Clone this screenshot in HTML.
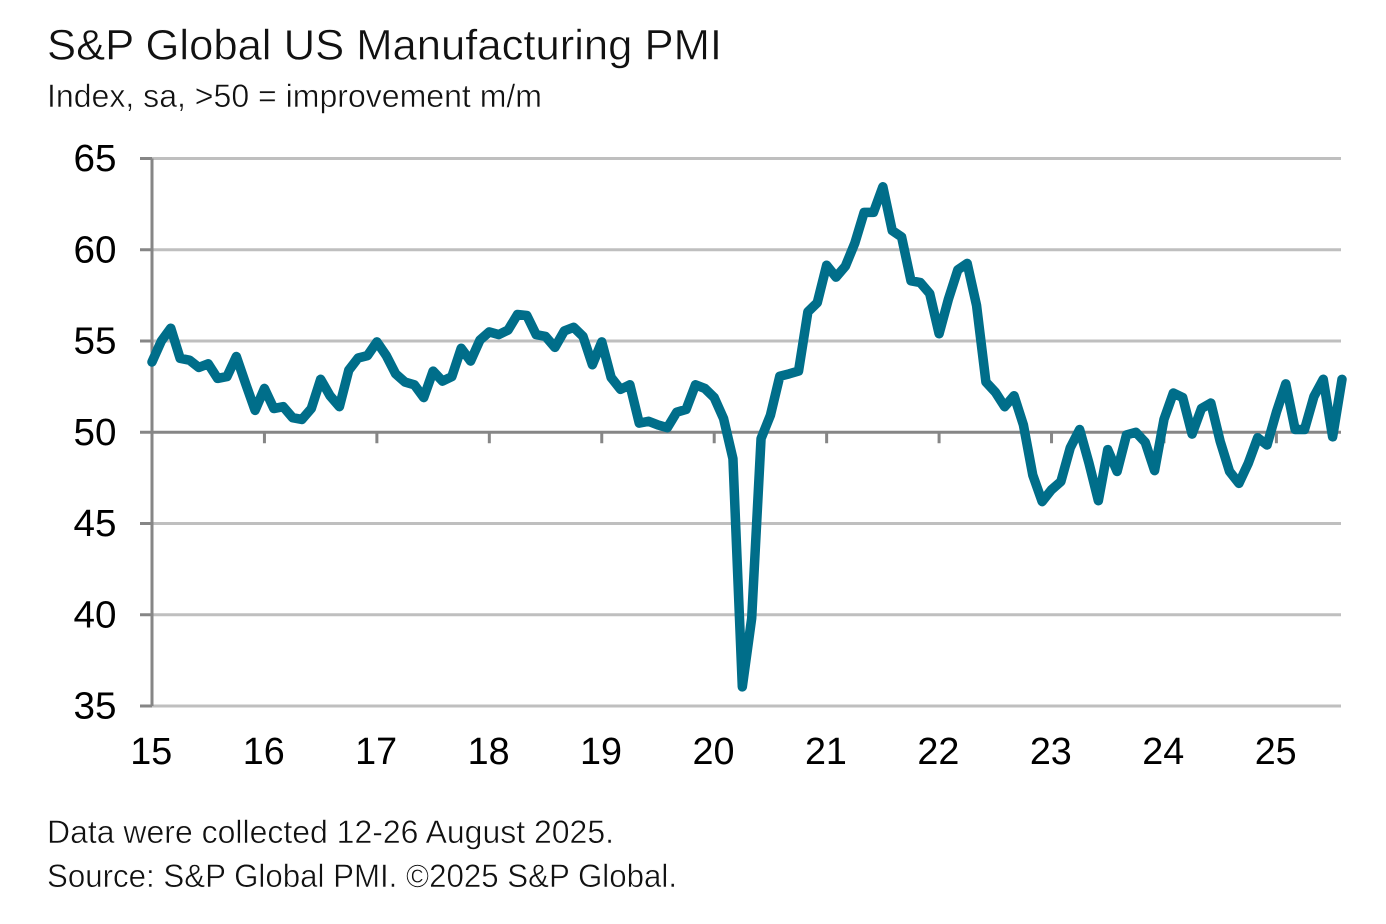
<!DOCTYPE html>
<html lang="en">
<head>
<meta charset="utf-8">
<title>S&amp;P Global US Manufacturing PMI</title>
<style>
html,body{margin:0;padding:0;background:#fff;}
body{width:1386px;height:924px;overflow:hidden;}
svg{display:block;}
text{font-family:"Liberation Sans",sans-serif;fill:#000;}
.thin{fill:#111;stroke:#fff;stroke-width:.5px;paint-order:fill stroke;}
</style>
</head>
<body>
<svg id="chart" width="1386" height="924" viewBox="0 0 1386 924" xmlns="http://www.w3.org/2000/svg">
  <rect x="0" y="0" width="1386" height="924" fill="#fff"/>
  <text class="thin" x="47" y="59.5" font-size="43" textLength="675" lengthAdjust="spacingAndGlyphs">S&amp;P Global US Manufacturing PMI</text>
  <text class="thin" x="47" y="107" font-size="32.5" textLength="495" lengthAdjust="spacingAndGlyphs">Index, sa, &gt;50 = improvement m/m</text>
  <g id="grid"></g>
  <g id="axes"></g>
  <g id="series"></g>
  <text class="thin" x="47" y="843" font-size="32" textLength="567" lengthAdjust="spacingAndGlyphs">Data were collected 12-26 August 2025.</text>
  <text class="thin" x="47" y="887" font-size="32" textLength="630" lengthAdjust="spacingAndGlyphs">Source: S&amp;P Global PMI. ©2025 S&amp;P Global.</text>
</svg>
<script>
const yTicks = [35, 40, 45, 50, 55, 60, 65];
const xLabels = ["15", "16", "17", "18", "19", "20", "21", "22", "23", "24", "25"];
const pmiValues = [
  53.85, 55.0, 55.7, 54.05, 53.95, 53.55, 53.75, 52.95, 53.05, 54.15, 52.65, 51.2,
  52.4, 51.3, 51.4, 50.8, 50.7, 51.3, 52.9, 52.0, 51.4, 53.4, 54.07, 54.2,
  54.95, 54.2, 53.2, 52.75, 52.6, 51.9, 53.35, 52.8, 53.05, 54.6, 53.9, 55.05,
  55.5, 55.35, 55.6, 56.45, 56.4, 55.35, 55.25, 54.65, 55.55, 55.75, 55.25, 53.7,
  54.95, 53.0, 52.35, 52.6, 50.5, 50.6, 50.4, 50.25, 51.1, 51.25, 52.6, 52.4,
  51.9, 50.75, 48.55, 36.05, 39.8, 49.65, 50.93, 53.07, 53.2, 53.35, 56.6, 57.1,
  59.15, 58.5, 59.1, 60.35, 62.05, 62.05, 63.45, 61.05, 60.7, 58.3, 58.2, 57.6,
  55.4, 57.3, 58.9, 59.25, 56.95, 52.75, 52.2, 51.4, 52.0, 50.4, 47.65, 46.2,
  46.85, 47.3, 49.15, 50.15, 48.3, 46.25, 49.05, 47.85, 49.85, 50.0, 49.45, 47.9,
  50.7, 52.15, 51.9, 49.9, 51.3, 51.6, 49.5, 47.85, 47.2, 48.3, 49.7, 49.3,
  51.1, 52.65, 50.15, 50.15, 51.95, 52.9, 49.75, 52.9
];

const NS = "http://www.w3.org/2000/svg";
const plotLeft = 152, plotRight = 1341, plotTop = 158.5, plotBottom = 706;
const monthStep = 9.37;
function xPos(i) { return plotLeft + i * monthStep; }
function yPos(v) { return plotBottom - (v - 35) * (plotBottom - plotTop) / 30; }
function mk(tag, attrs, parent) {
  const el = document.createElementNS(NS, tag);
  for (const k in attrs) el.setAttribute(k, attrs[k]);
  parent.appendChild(el);
  return el;
}
const gridG = document.getElementById("grid");
const axesG = document.getElementById("axes");
const seriesG = document.getElementById("series");

yTicks.forEach(function (v) {
  const y = yPos(v);
  if (v !== 50) {
    const g = mk("line", {x1: plotLeft, x2: plotRight, y1: y, y2: y, stroke: "#bfbfbf", "stroke-width": 3}, gridG);
    
    
  }
  const t = mk("line", {x1: 140, x2: plotLeft, y1: y, y2: y, stroke: "#868686", "stroke-width": 3}, axesG);
  
  
  const l = mk("text", {x: 116.5, y: y + 12.5, "font-size": 38, "text-anchor": "end", textLength: 43, lengthAdjust: "spacingAndGlyphs"}, axesG);
  l.textContent = String(v);
  
  
});

const yAxis = mk("line", {x1: plotLeft, x2: plotLeft, y1: plotTop, y2: plotBottom, stroke: "#868686", "stroke-width": 3}, axesG);



const baseline = mk("line", {x1: plotLeft, x2: plotRight, y1: yPos(50), y2: yPos(50), stroke: "#868686", "stroke-width": 3}, axesG);



xLabels.forEach(function (lab, i) {
  const x = xPos(i * 12);
  const t = mk("line", {x1: x, x2: x, y1: yPos(50), y2: yPos(50) + 11, stroke: "#868686", "stroke-width": 3}, axesG);
  
  
  const l = mk("text", {x: x - 0.7, y: 764, "font-size": 38, "text-anchor": "middle", textLength: 42, lengthAdjust: "spacingAndGlyphs"}, axesG);
  l.textContent = lab;
  
  
});

const linePath = pmiValues.map(function (v, i) {
  return (i ? "L" : "M") + xPos(i).toFixed(2) + " " + yPos(v).toFixed(2);
}).join(" ");
const pmiLine = mk("path", {d: linePath, fill: "none", stroke: "#006e8a", "stroke-width": 9.5, "stroke-linejoin": "round", "stroke-linecap": "round"}, seriesG);


</script>
</body>
</html>
